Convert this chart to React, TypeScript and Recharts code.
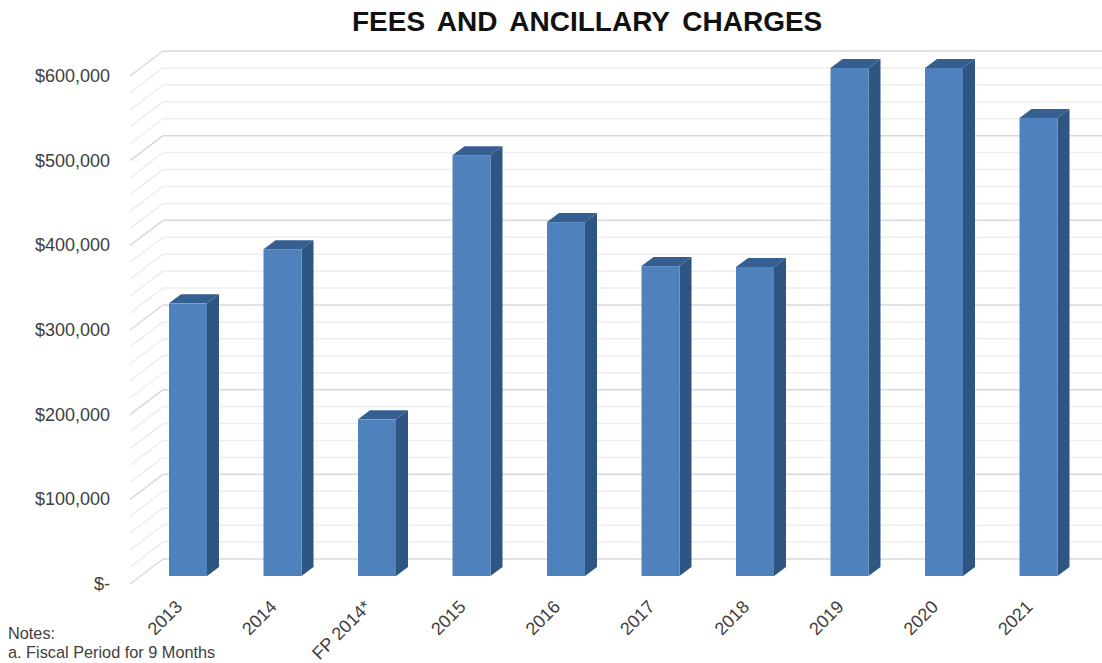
import { BarChart, Bar, XAxis, YAxis, CartesianGrid } from 'recharts';

const categories = ['2013', '2014', 'FP 2014*', '2015', '2016', '2017', '2018', '2019', '2020', '2021'];
const fees = [322000, 386000, 185000, 497000, 418000, 366000, 365000, 600000, 600000, 541000];
const yTicks = [0, 100000, 200000, 300000, 400000, 500000, 600000];
const gridValues = [
  0, 20000, 40000, 60000, 80000, 100000, 120000, 140000, 160000, 180000, 200000, 220000, 240000, 260000, 280000,
  300000, 320000, 340000, 360000, 380000, 400000, 420000, 440000, 460000, 480000, 500000, 520000, 540000, 560000,
  580000, 600000,
];

const rows = categories.map((name, i) => ({ name, fees: fees[i] }));

const DEPTH_X = 12;
const DEPTH_Y = 9;
const TEXT = '#404040';
const FONT = '"Liberation Sans", Arial, sans-serif';

function formatMoney(v: number) {
  return v === 0 ? '$-' : '$' + v.toLocaleString('en-US');
}

// front face plus the top and right side of the 3D column
function Bar3D(props: any) {
  const { x, y, width, height } = props;
  const r = x + width;
  const b = y + height;
  return (
    <g>
      <polygon
        points={`${x},${y} ${x + DEPTH_X},${y - DEPTH_Y} ${r + DEPTH_X},${y - DEPTH_Y} ${r},${y}`}
        fill="#365f91"
      />
      <polygon
        points={`${r},${y} ${r + DEPTH_X},${y - DEPTH_Y} ${r + DEPTH_X},${b - DEPTH_Y} ${r},${b}`}
        fill="#2f5582"
      />
      <rect x={x} y={y} width={width} height={height} fill="#4f81bd" />
    </g>
  );
}

// back wall line and the diagonal on the side wall
function GridLine(props: any) {
  const { x1, x2, y1, index } = props;
  const major = index % 5 === 0;
  const stroke = major ? '#d9d9d9' : '#eeeeee';
  const backY = y1 - 17;
  return (
    <g>
      <line x1={x1 - 11} y1={y1 + 8} x2={x1 + 22} y2={backY} stroke={stroke} strokeWidth={1.5} />
      <line x1={x1 + 22} y1={backY} x2={x2 + 16} y2={backY} stroke={stroke} strokeWidth={1.5} />
    </g>
  );
}

function YTick(props: any) {
  const { x, y, payload } = props;
  return (
    <text x={x - 25} y={y + 8} dy={6} textAnchor="end" fontFamily={FONT} fontSize={18} fill={TEXT}>
      {formatMoney(payload.value)}
    </text>
  );
}

function XTick(props: any) {
  const { x, y, payload } = props;
  return (
    <text
      transform={`translate(${x - 5},${y + 24}) rotate(-45)`}
      textAnchor="end"
      fontFamily={FONT}
      fontSize={18}
      fill={TEXT}
    >
      {payload.value}
    </text>
  );
}

export default function App() {
  return (
    <div style={{ position: 'absolute', left: 0, top: 0, width: 1102, height: 663, background: '#fff' }}>
      <div
        style={{
          position: 'absolute',
          left: 352,
          top: 6,
          width: 470,
          textAlign: 'center',
          whiteSpace: 'nowrap',
          fontFamily: FONT,
          fontWeight: 700,
          fontSize: 28,
          wordSpacing: 5,
          color: '#111',
        }}
      >
        FEES AND ANCILLARY CHARGES
      </div>
      <BarChart width={1102} height={663} data={rows} margin={{ top: 68, right: 16, bottom: 0, left: 0 }}>
        <CartesianGrid
          vertical={false}
          horizontalValues={gridValues}
          horizontal={(p: any) => <GridLine key={p.index} {...p} />}
        />
        <XAxis dataKey="name" interval={0} axisLine={false} tickLine={false} tick={XTick} height={87} />
        <YAxis
          width={141}
          domain={[0, 600000]}
          ticks={yTicks}
          interval={0}
          axisLine={false}
          tickLine={false}
          tickMargin={0}
          tick={YTick}
        />
        <Bar dataKey="fees" barSize={38} shape={Bar3D} isAnimationActive={false} />
      </BarChart>
      <div
        style={{
          position: 'absolute',
          left: 8,
          top: 624,
          fontFamily: FONT,
          fontSize: 16.3,
          lineHeight: '19px',
          color: TEXT,
          whiteSpace: 'pre',
        }}
      >
        {'Notes:\na. Fiscal Period for 9 Months'}
      </div>
    </div>
  );
}
